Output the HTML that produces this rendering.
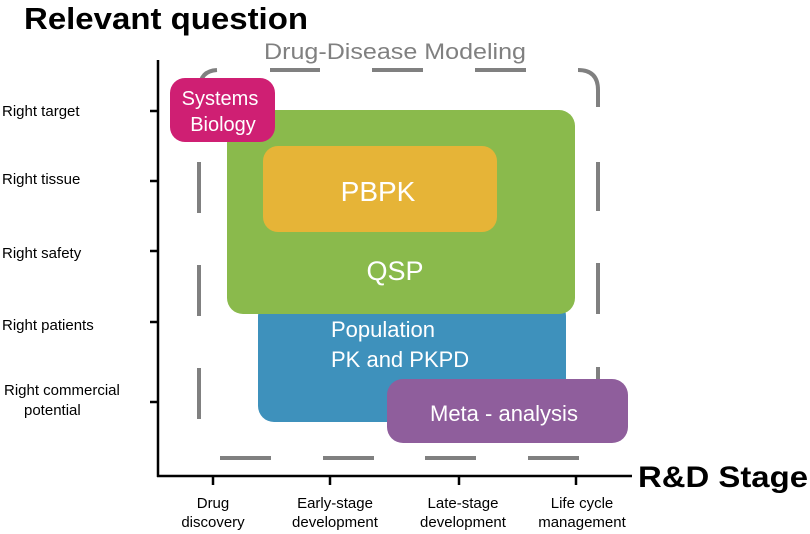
<!DOCTYPE html>
<html><head><meta charset="utf-8"><style>
html,body{margin:0;padding:0;background:#fff}
svg{display:block}
text{font-family:"Liberation Sans",Arial,sans-serif}
</style></head><body>
<svg width="810" height="534" viewBox="0 0 810 534" xmlns="http://www.w3.org/2000/svg">
<text x="24" y="29" font-size="31" font-weight="bold" fill="#000" textLength="284" lengthAdjust="spacingAndGlyphs">Relevant question</text>
<text x="264" y="59" font-size="22" fill="#808080" textLength="262" lengthAdjust="spacingAndGlyphs">Drug-Disease Modeling</text>
<g stroke="#808080" stroke-width="4" fill="none">
<path d="M200 88 Q200 71 217 70"/>
<line x1="270" y1="70" x2="320" y2="70"/><line x1="372" y1="70" x2="423" y2="70"/><line x1="475" y1="70" x2="526" y2="70"/>
<path d="M578 70 Q598 70 598 90 L598 107"/>
<line x1="199" y1="162" x2="199" y2="213"/><line x1="199" y1="265" x2="199" y2="316"/><line x1="199" y1="368" x2="199" y2="419"/>
<line x1="598" y1="162" x2="598" y2="211"/><line x1="598" y1="263" x2="598" y2="314"/><line x1="598" y1="367" x2="598" y2="382"/>
<line x1="220" y1="458" x2="271" y2="458"/><line x1="323" y1="458" x2="374" y2="458"/><line x1="425" y1="458" x2="476" y2="458"/><line x1="528" y1="458" x2="579" y2="458"/>
</g>
<g stroke="#000" stroke-width="2.5">
<line x1="158" y1="60" x2="158" y2="477"/><line x1="157" y1="476" x2="632" y2="476"/>
<line x1="150" y1="111" x2="158" y2="111"/><line x1="150" y1="181" x2="158" y2="181"/><line x1="150" y1="251" x2="158" y2="251"/><line x1="150" y1="322" x2="158" y2="322"/><line x1="150" y1="402" x2="158" y2="402"/>
<line x1="213" y1="476" x2="213" y2="485"/><line x1="330" y1="476" x2="330" y2="485"/><line x1="459" y1="476" x2="459" y2="485"/><line x1="576" y1="476" x2="576" y2="485"/>
</g>
<text x="638" y="487" font-size="30" font-weight="bold" fill="#000" textLength="170" lengthAdjust="spacingAndGlyphs">R&amp;D Stage</text>
<g font-size="15" fill="#000">
<text x="2" y="116">Right target</text>
<text x="2" y="184">Right tissue</text>
<text x="2" y="258">Right safety</text>
<text x="2" y="330">Right patients</text>
<text x="4" y="395">Right commercial</text>
<text x="24" y="415">potential</text>
</g>
<g font-size="15" fill="#000" text-anchor="middle">
<text x="213" y="508">Drug</text><text x="213" y="527">discovery</text>
<text x="335" y="508">Early-stage</text><text x="335" y="527">development</text>
<text x="463" y="508">Late-stage</text><text x="463" y="527">development</text>
<text x="582" y="508">Life cycle</text><text x="582" y="527">management</text>
</g>
<rect x="258" y="300" width="308" height="122" rx="16" fill="#3e91bc"/>
<rect x="227" y="110" width="348" height="204" rx="16" fill="#8aba4c"/>
<rect x="263" y="146" width="234" height="86" rx="15" fill="#e6b437"/>
<rect x="170" y="78" width="105" height="64" rx="15" fill="#cf1f73"/>
<rect x="387" y="379" width="241" height="64" rx="16" fill="#8f5e9c"/>
<g fill="#fff" font-size="20">
<text x="220" y="105" text-anchor="middle">Systems</text>
<text x="223" y="131" text-anchor="middle">Biology</text>
<text x="378" y="201" text-anchor="middle" font-size="28">PBPK</text>
<text x="395" y="280" text-anchor="middle" font-size="27">QSP</text>
<text x="331" y="337" font-size="22">Population</text>
<text x="331" y="367" font-size="22">PK and PKPD</text>
<text x="430" y="421" font-size="22">Meta - analysis</text>
</g>
</svg>
</body></html>
